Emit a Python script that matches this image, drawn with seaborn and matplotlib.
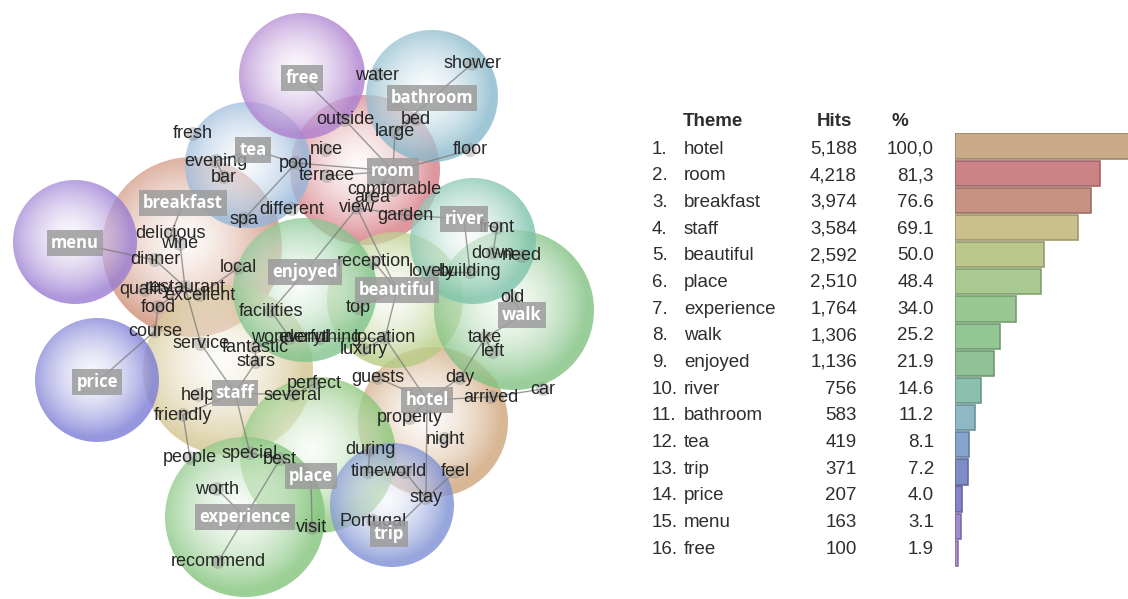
import numpy as np
import pandas as pd
import matplotlib
matplotlib.use("Agg")
import matplotlib.pyplot as plt
import seaborn as sns
from matplotlib.patches import Circle
from matplotlib.colors import to_rgb

# ---------------- data ----------------
themes = ["hotel", "room", "breakfast", "staff", "beautiful", "place", "experience", "walk",
          "enjoyed", "river", "bathroom", "tea", "trip", "price", "menu", "free"]
hits_labels = ["5,188", "4,218", "3,974", "3,584", "2,592", "2,510", "1,764", "1,306",
               "1,136", "756", "583", "419", "371", "207", "163", "100"]
pct_labels = ["100,0", "81,3", "76.6", "69.1", "50.0", "48.4", "34.0", "25.2",
              "21.9", "14.6", "11.2", "8.1", "7.2", "4.0", "3.1", "1.9"]
pct_values = [100.0, 81.3, 76.6, 69.1, 50.0, 48.4, 34.0, 25.2, 21.9, 14.6, 11.2, 8.1, 7.2, 4.0, 3.1, 1.9]
bar_colors = ["#c6a683", "#c97d80", "#c48c7c", "#c9bd86", "#b8c485", "#a3c78a", "#94c48b", "#8cc38d",
              "#8bbf91", "#86bdaa", "#87b4c1", "#7f9fc9", "#7787c7", "#807ccc", "#9c84d0", "#b08bd2"]

# concept map: theme circles (same order as themes)
circle_x = [433, 365, 192, 228, 395, 318, 245, 514, 305, 473, 432, 248, 392, 97, 75, 302]
circle_y = [422, 170, 247, 370, 300, 455, 517, 310, 290, 241, 96, 165, 505, 380, 242, 76]
circle_r = [75, 75, 90, 85, 68, 78, 80, 80, 72, 63, 66, 63, 62, 62, 62, 63]
circle_colors = ["#cfa57a", "#d67c84", "#cf9078", "#d2c48e", "#b6cc84", "#8cc77a", "#84c47c", "#80c282",
                 "#80c48c", "#7fc3ac", "#88b9cb", "#95b6da", "#7d90d4", "#7c7cd6", "#9a7cd2", "#ae80cf"]
label_x = [427, 393, 183, 235, 397, 311, 245, 522, 305, 464, 432, 253, 389, 97, 75, 302]
label_y = [400, 171, 203, 393, 290, 476, 517, 315, 272, 219, 98, 150, 534, 382, 243, 78]

# concept words
words = ["fresh", "evening", "bar", "spa", "different", "pool", "nice", "terrace", "outside", "large",
         "bed", "water", "shower", "floor", "comfortable", "area", "view", "garden", "front", "down",
         "need", "building", "lovely", "reception", "top", "delicious", "wine", "dinner", "local",
         "restaurant", "quality", "excellent", "food", "facilities", "course", "service", "fantastic",
         "wonderful", "everything", "location", "luxury", "stars", "old", "take", "left", "guests",
         "day", "arrived", "car", "perfect", "several", "help", "friendly", "property", "night",
         "people", "special", "best", "during", "time", "world", "feel", "stay", "worth", "visit",
         "Portugal", "recommend"]
word_x = [193, 216, 224, 244, 292, 296, 326, 327, 345, 395,
          416, 377, 472, 470, 394, 372, 357, 405, 497, 493,
          522, 470, 432, 374, 358, 171, 180, 155, 238,
          185, 145, 200, 158, 271, 155, 201, 255,
          290, 320, 385, 364, 256, 512, 485, 493, 378,
          460, 491, 543, 314, 293, 198, 183, 410, 445,
          190, 250, 280, 370, 368, 405, 455, 426, 217, 312,
          373, 218]
word_y = [134, 161, 177, 219, 209, 163, 150, 176, 120, 132,
          119, 75, 64, 150, 190, 197, 208, 215, 228, 253,
          256, 272, 272, 262, 308, 234, 244, 260, 268,
          287, 290, 295, 307, 311, 331, 344, 347,
          338, 338, 338, 349, 362, 297, 338, 352, 378,
          378, 397, 389, 384, 395, 395, 415, 418, 439,
          458, 453, 459, 450, 472, 472, 472, 498, 489, 528,
          521, 562]

edges = [("free", "outside"), ("outside", "room"), ("bathroom", "shower"), ("bathroom", "large"),
         ("large", "room"), ("bed", "large"), ("floor", "room"), ("tea", "pool"), ("pool", "room"),
         ("pool", "spa"), ("tea", "evening"), ("evening", "bar"), ("room", "terrace"),
         ("room", "comfortable"), ("room", "view"), ("view", "garden"), ("view", "enjoyed"),
         ("view", "beautiful"), ("breakfast", "delicious"), ("delicious", "wine"),
         ("wine", "restaurant"), ("dinner", "restaurant"), ("menu", "dinner"),
         ("restaurant", "quality"), ("restaurant", "excellent"), ("excellent", "local"),
         ("restaurant", "food"), ("food", "course"), ("course", "price"),
         ("restaurant", "service"), ("service", "staff"), ("enjoyed", "facilities"),
         ("facilities", "wonderful"), ("staff", "stars"), ("stars", "fantastic"),
         ("fantastic", "wonderful"), ("wonderful", "everything"), ("everything", "location"),
         ("location", "beautiful"), ("beautiful", "top"), ("beautiful", "reception"),
         ("location", "hotel"), ("luxury", "location"), ("hotel", "guests"), ("hotel", "day"),
         ("day", "take"), ("take", "walk"), ("walk", "old"), ("take", "left"),
         ("hotel", "arrived"), ("arrived", "car"), ("hotel", "property"), ("hotel", "stay"),
         ("stay", "feel"), ("stay", "world"), ("world", "time"), ("time", "during"),
         ("stay", "trip"), ("trip", "Portugal"), ("place", "visit"), ("staff", "friendly"),
         ("friendly", "people"), ("staff", "special"), ("special", "best"), ("best", "place"),
         ("best", "experience"), ("experience", "worth"), ("experience", "recommend"),
         ("staff", "several"), ("several", "perfect"), ("river", "front"), ("front", "down"),
         ("down", "need"), ("river", "building"), ("building", "lovely"), ("garden", "river")]

# ---------------- figure ----------------
sns.set_theme(style="white")
plt.rcParams["font.family"] = ["Liberation Sans", "DejaVu Sans"]

W, H = 1128, 599
fig = plt.figure(figsize=(W / 100, H / 100), dpi=100)
ax = fig.add_axes([0, 0, 1, 1])
ax.set_xlim(0, W)
ax.set_ylim(H, 0)
ax.axis("off")

# gradient circles
n = 160
g = np.linspace(-1, 1, n)
GX, GY = np.meshgrid(g, g)
D = np.clip(np.sqrt((GX + 0.08) ** 2 + (GY + 0.08) ** 2), 0, 1)
for cx, cy, r, col in zip(circle_x, circle_y, circle_r, circle_colors):
    c = np.array(to_rgb(col))
    t = 0.08 + 0.92 * D ** 1.25
    img = np.ones((n, n, 4))
    for k in range(3):
        img[..., k] = 1 * (1 - t) + c[k] * t
    img[..., 3] = 0.5 + 0.3 * D
    im = ax.imshow(img, extent=(cx - r, cx + r, cy + r, cy - r), origin="upper",
                   aspect="auto", zorder=1, interpolation="bilinear")
    clip = Circle((cx, cy), r, transform=ax.transData)
    im.set_clip_path(clip)

# node positions
pos = {w: (x, y) for w, x, y in zip(words, word_x, word_y)}
for t_, x, y in zip(themes, label_x, label_y):
    pos[t_] = (x, y)

for a, b in edges:
    (x1, y1), (x2, y2) = pos[a], pos[b]
    ax.plot([x1, x2], [y1, y2], color="#747474", lw=1.0, alpha=0.7, zorder=2)

ax.scatter(word_x, word_y, s=100, color="#808080", alpha=0.35, edgecolors="none", zorder=3)

for w, x, y in zip(words, word_x, word_y):
    ax.text(x, y, w, ha="center", va="center", fontsize=13, color="#1c1c1c",
            alpha=0.95, zorder=4)

for t_, x, y in zip(themes, label_x, label_y):
    ax.text(x, y, t_, ha="center", va="center", fontsize=12, color="white",
            fontweight="bold", family=["Open Sans", "DejaVu Sans"], zorder=6,
            bbox=dict(boxstyle="square,pad=0.25", fc="#9c9c9c", ec="none", alpha=0.85))

# ---------------- table ----------------
row_y0, row_step = 149, 26.67
tc = "#2e2e2e"
ax.text(683, 122, "Theme", ha="left", va="center", fontsize=13.5, fontweight="bold", color=tc)
ax.text(834, 122, "Hits", ha="center", va="center", fontsize=13.5, fontweight="bold", color=tc)
ax.text(900, 122, "%", ha="center", va="center", fontsize=13.5, fontweight="bold", color=tc)
for i, (t_, h_, p_) in enumerate(zip(themes, hits_labels, pct_labels)):
    y = row_y0 + i * row_step
    ax.text(652, y, f"{i + 1}.", ha="left", va="center", fontsize=13.5, color=tc)
    ax.text(684, y, t_, ha="left", va="center", fontsize=13.5, color=tc)
    ax.text(857, y, h_, ha="right", va="center", fontsize=13.5, color=tc)
    ax.text(934, y, p_, ha="right", va="center", fontsize=13.5, color=tc)

# ---------------- bars ----------------
top_px, bot_px = 132.5, 567.0
left_px = 955
bax = fig.add_axes([left_px / W, 1 - bot_px / H, (W - left_px) / W, (bot_px - top_px) / H])
df = pd.DataFrame({"theme": themes, "pct": pct_values})
sns.barplot(data=df, x="pct", y="theme", hue="theme", palette=dict(zip(themes, bar_colors)),
            order=themes, legend=False, width=0.93, ax=bax, saturation=1)
for p, col in zip(bax.patches, bar_colors):
    c = np.array(to_rgb(col))
    p.set_edgecolor(tuple(c * 0.78))
    p.set_linewidth(1.2)
    p.set_alpha(0.95)
bax.set_xlim(0, (W - left_px) / 1.78)
bax.set_ylim(15.5, -0.5)
bax.axis("off")

fig.savefig("out.png", dpi=100)
